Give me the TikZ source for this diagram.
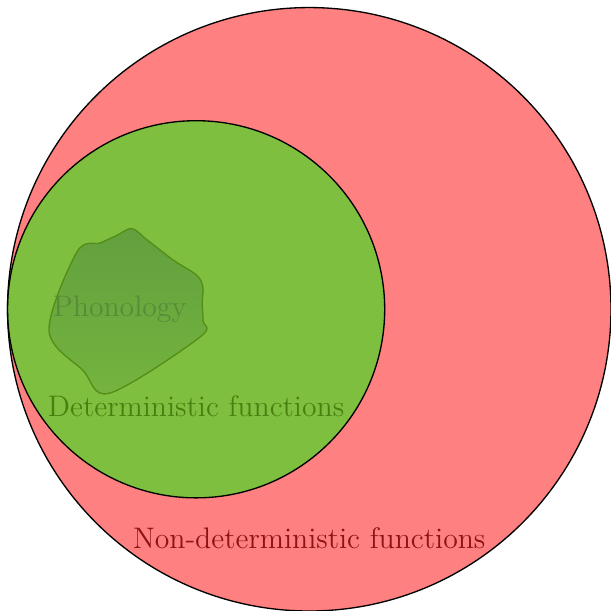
\documentclass[tikz,border=0pt]{standalone}
\usetikzlibrary{positioning}

\begin{document}
\begin{tikzpicture}[scale=1.0, line width=0.5pt, font=\fontsize{11.2}{13}\selectfont]
  \useasboundingbox (-4.1,-4) rectangle (4,4.1);
  % Outer set: all functions, non-deterministic included
  \draw[fill=red!50] (0,0) circle[radius=4];
  % Inner set: deterministic functions, tangent on the left
  \draw[fill=green, fill opacity=0.5] (-1.5,0) circle[radius=2.5];
  % Phonology as an irregular region inside the deterministic set
  \draw[draw={rgb,255:red,84;green,140;blue,24}, top color={rgb,255:red,98;green,160;blue,62},
        bottom color={rgb,255:red,116;green,180;blue,62}]
    plot[smooth cycle, tension=0.55] coordinates {
      (-2.35,1.07) (-2.15,0.92) (-1.80,0.65) (-1.49,0.45) (-1.41,0.29)
      (-1.42,0.09) (-1.41,-0.15) (-1.45,-0.37) (-2.64,-1.11) (-3.00,-0.81)
      (-3.45,-0.28) (-3.08,0.76) (-2.77,0.88) (-2.55,0.98)};
  \node[text={rgb,255:red,88;green,140;blue,56}] (phon) at (-2.51,0) {Phonology};
  \node[text={rgb,255:red,72;green,128;blue,16}] (det) at (-1.5,-1.29) {Deterministic functions};
  \node[text={rgb,255:red,140;green,20;blue,20}] (nondet) at (0,-3.04) {Non-deterministic functions};
\end{tikzpicture}
\end{document}
